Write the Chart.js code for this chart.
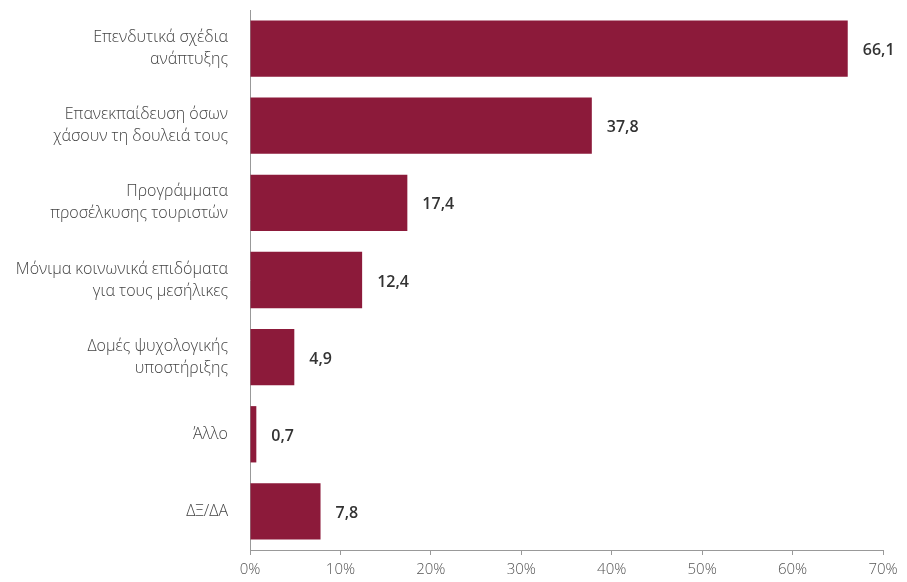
<!DOCTYPE html>
<html>
<head>
<meta charset="utf-8">
<script src="https://cdn.jsdelivr.net/npm/chart.js@4"></script>
<style>
  html, body { margin: 0; padding: 0; background: #fff; }
  #wrap { width: 907px; height: 582px; }
</style>
</head>
<body>
<div id="wrap"><canvas id="chart"></canvas></div>
<script>
const categories = [
  ["Επενδυτικά σχέδια", "ανάπτυξης"],
  ["Επανεκπαίδευση όσων", "χάσουν τη δουλειά τους"],
  ["Προγράμματα", "προσέλκυσης τουριστών"],
  ["Μόνιμα κοινωνικά επιδόματα", "για τους μεσήλικες"],
  ["Δομές ψυχολογικής", "υποστήριξης"],
  "Άλλο",
  "ΔΞ/ΔΑ",
];
const values = [66.1, 37.8, 17.4, 12.4, 4.9, 0.7, 7.8];
const xTicks = [0, 10, 20, 30, 40, 50, 60, 70];

const barColor = "#8c1a3a";
const fontFamily = "'Open Sans', 'Noto Sans', sans-serif";

// draws the value at the end of each bar, Greek decimal comma
const valueLabels = {
  id: "valueLabels",
  afterDatasetsDraw(chart) {
    const ctx = chart.ctx;
    const meta = chart.getDatasetMeta(0);
    ctx.save();
    ctx.font = "600 16px " + fontFamily;
    ctx.fillStyle = "#333";
    ctx.textAlign = "left";
    ctx.textBaseline = "middle";
    meta.data.forEach((bar, i) => {
      const txt = values[i].toFixed(1).replace(".", ",");
      ctx.fillText(txt, bar.x + 15, bar.y + 2);
    });
    ctx.restore();
  },
};

new Chart(document.getElementById("chart"), {
  type: "bar",
  data: {
    labels: categories,
    datasets: [
      {
        data: values,
        backgroundColor: barColor,
        barPercentage: 0.73,
        categoryPercentage: 1,
      },
    ],
  },
  plugins: [valueLabels],
  options: {
    indexAxis: "y",
    responsive: true,
    maintainAspectRatio: false,
    animation: false,
    layout: { padding: { top: 10, right: 24, left: 0, bottom: 0 } },
    plugins: {
      legend: { display: false },
      tooltip: { enabled: false },
    },
    scales: {
      x: {
        min: 0,
        max: 70,
        afterBuildTicks: (scale) => {
          scale.ticks = xTicks.map((v) => ({ value: v }));
        },
        afterFit: (scale) => {
          scale.height = 32;
          scale.paddingLeft = 0;
          scale.paddingRight = 0;
        },
        border: { display: true, color: "#999", width: 1 },
        grid: {
          drawOnChartArea: false,
          drawTicks: true,
          tickLength: 5,
          color: "#999",
        },
        ticks: {
          padding: 6,
          color: "#555",
          font: { family: fontFamily, size: 15, weight: 300 },
          callback: (v) => v + "%",
        },
      },
      y: {
        afterFit: (scale) => {
          scale.width = 250;
          scale.paddingTop = 0;
          scale.paddingBottom = 0;
        },
        border: { display: true, color: "#999", width: 1 },
        grid: { display: false },
        ticks: {
          padding: 14,
          color: "#444",
          font: { family: fontFamily, size: 16, weight: 300, lineHeight: 1.38 },
        },
      },
    },
  },
});
</script>
</body>
</html>
